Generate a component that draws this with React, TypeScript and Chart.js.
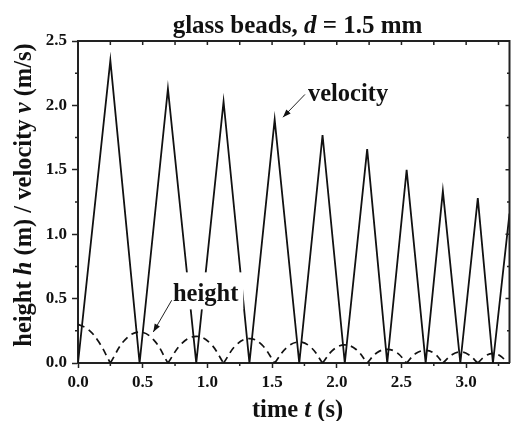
import React, { useEffect, useRef } from "react";
import { Chart, registerables } from "chart.js";

Chart.register(...registerables);

// ---- data ----
const velocityTime = [0, 0.25, 0.476, 0.695, 0.914, 1.125, 1.325, 1.52, 1.71, 1.89, 2.062, 2.235, 2.39, 2.54, 2.687, 2.82, 2.955, 3.09, 3.207, 3.335];
const velocityValue = [0, 2.35, 0, 2.13, 0, 2.03, 0, 1.89, 0, 1.77, 0, 1.66, 0, 1.5, 0, 1.335, 0, 1.28, 0, 1.16];

// height arcs, separated by null (break between bounces)
const heightTime = [
  0, 0.08, 0.16, 0.25, 0.25,
  0.25, 0.363, 0.476, 0.585, 0.695, 0.695,
  0.695, 0.805, 0.914, 1.02, 1.125, 1.125,
  1.125, 1.225, 1.325, 1.42, 1.52, 1.52,
  1.52, 1.615, 1.71, 1.8, 1.89, 1.89,
  1.89, 1.975, 2.062, 2.15, 2.235, 2.235,
  2.235, 2.31, 2.39, 2.465, 2.54, 2.54,
  2.54, 2.61, 2.687, 2.755, 2.82, 2.82,
  2.82, 2.89, 2.955, 3.02, 3.09, 3.09,
  3.09, 3.15, 3.207, 3.265, 3.32,
];
const heightValue = [
  0.3, 0.26, 0.165, 0, null,
  0, 0.18, 0.24, 0.18, 0, null,
  0, 0.155, 0.207, 0.155, 0, null,
  0, 0.142, 0.19, 0.142, 0, null,
  0, 0.122, 0.163, 0.122, 0, null,
  0, 0.105, 0.14, 0.105, 0, null,
  0, 0.08, 0.106, 0.08, 0, null,
  0, 0.074, 0.098, 0.074, 0, null,
  0, 0.064, 0.086, 0.064, 0, null,
  0, 0.055, 0.074, 0.055, 0,
];

const xMin = 0;
const xMax = 3.335;
const xStep = 0.5;
const yMin = 0;
const yMax = 2.5;
const yStep = 0.5;

const titleParts: [string, boolean][] = [["glass beads, ", false], ["d", true], [" = 1.5 mm", false]];
const xTitleParts: [string, boolean][] = [["time ", false], ["t", true], [" (s)", false]];
const yTitleParts: [string, boolean][] = [["height ", false], ["h", true], [" (m) / velocity ", false], ["v", true], [" (m/s)", false]];
const velocityLabel = "velocity";
const heightLabel = "height";

const FONT = '"Liberation Serif", "Times New Roman", serif';
const INK = "#111";

function drawRich(ctx: CanvasRenderingContext2D, parts: [string, boolean][], x: number, y: number, size: number) {
  const widths = parts.map(([t, it]) => {
    ctx.font = `${it ? "italic " : ""}bold ${size}px ${FONT}`;
    return ctx.measureText(t).width;
  });
  const total = widths.reduce((a, b) => a + b, 0);
  let sx = x - total / 2;
  ctx.textAlign = "left";
  parts.forEach(([t, it], i) => {
    ctx.font = `${it ? "italic " : ""}bold ${size}px ${FONT}`;
    ctx.fillText(t, sx, y);
    sx += widths[i];
  });
}

function arrow(ctx: CanvasRenderingContext2D, x1: number, y1: number, x2: number, y2: number) {
  ctx.beginPath();
  ctx.moveTo(x1, y1);
  ctx.lineTo(x2, y2);
  ctx.stroke();
  const ang = Math.atan2(y2 - y1, x2 - x1);
  const L = 8, W = 3;
  ctx.beginPath();
  ctx.moveTo(x2, y2);
  ctx.lineTo(x2 - L * Math.cos(ang) + W * Math.sin(ang), y2 - L * Math.sin(ang) - W * Math.cos(ang));
  ctx.lineTo(x2 - L * Math.cos(ang) - W * Math.sin(ang), y2 - L * Math.sin(ang) + W * Math.cos(ang));
  ctx.closePath();
  ctx.fill();
}

const decorPlugin = {
  id: "decor",
  afterDraw(chart: any) {
    const ctx: CanvasRenderingContext2D = chart.ctx;
    const a = chart.chartArea;
    const xs = chart.scales.x;
    const ys = chart.scales.y;
    ctx.save();
    ctx.strokeStyle = "#222";
    ctx.fillStyle = INK;

    // frame top & right
    ctx.lineWidth = 2;
    ctx.beginPath();
    ctx.moveTo(a.left - 1, a.top);
    ctx.lineTo(a.right, a.top);
    ctx.lineTo(a.right, a.bottom);
    ctx.stroke();

    // ticks: top/right inward, minor outward on bottom/left
    ctx.lineWidth = 1.5;
    const xMaj = xs.ticks.map((t: any) => t.value);
    const yMaj = ys.ticks.map((t: any) => t.value);
    const xMinor: number[] = [];
    for (let i = 0; i < xMaj.length; i++) {
      const m = xMaj[i] + xStep / 2;
      if (m <= xMax) xMinor.push(m);
    }
    const yMinor: number[] = [];
    for (let i = 0; i < yMaj.length - 1; i++) yMinor.push((yMaj[i] + yMaj[i + 1]) / 2);
    ctx.beginPath();
    [...xMaj, ...xMinor].forEach((v) => {
      const px = xs.getPixelForValue(v);
      ctx.moveTo(px, a.top);
      ctx.lineTo(px, a.top + 4);
    });
    xMinor.forEach((v) => {
      const px = xs.getPixelForValue(v);
      ctx.moveTo(px, a.bottom);
      ctx.lineTo(px, a.bottom + 3);
    });
    yMinor.forEach((v) => {
      const py = ys.getPixelForValue(v);
      ctx.moveTo(a.left, py);
      ctx.lineTo(a.left - 3, py);
      ctx.moveTo(a.right, py);
      ctx.lineTo(a.right - 2.5, py);
    });
    yMaj.forEach((v: number) => {
      const py = ys.getPixelForValue(v);
      ctx.moveTo(a.right, py);
      ctx.lineTo(a.right - 4, py);
    });
    ctx.stroke();

    // height label with white box
    ctx.font = `bold 24.5px ${FONT}`;
    ctx.textBaseline = "middle";
    const hx = xs.getPixelForValue(0.734);
    const hy = ys.getPixelForValue(0.533);
    const hw = ctx.measureText(heightLabel).width;
    ctx.fillStyle = "#fff";
    ctx.fillRect(hx - 5, hy - 22, hw + 10, 37);
    ctx.fillStyle = INK;
    ctx.textAlign = "left";
    ctx.fillText(heightLabel, hx, hy);
    ctx.lineWidth = 1;
    arrow(ctx, xs.getPixelForValue(0.724), ys.getPixelForValue(0.487), xs.getPixelForValue(0.582), ys.getPixelForValue(0.241));

    // velocity label
    ctx.fillText(velocityLabel, xs.getPixelForValue(1.777), ys.getPixelForValue(2.08));
    arrow(ctx, xs.getPixelForValue(1.754), ys.getPixelForValue(2.085), xs.getPixelForValue(1.584), ys.getPixelForValue(1.908));

    // title
    ctx.textBaseline = "alphabetic";
    drawRich(ctx, titleParts, 297.5, 33, 25);
    // x title
    drawRich(ctx, xTitleParts, 297.5, 417, 24.5);
    // y title
    ctx.save();
    ctx.translate(25, 195);
    ctx.rotate(-Math.PI / 2);
    ctx.textBaseline = "middle";
    drawRich(ctx, yTitleParts, 0, 0, 24.5);
    ctx.restore();

    ctx.restore();
  },
};

export default function App() {
  const ref = useRef<HTMLCanvasElement>(null);
  useEffect(() => {
    if (!ref.current) return;
    const tickFont = { family: FONT, size: 17, weight: "bold" as const };
    const chart = new Chart(ref.current, {
      type: "line",
      data: {
        datasets: [
          {
            label: "velocity",
            data: velocityTime.map((t, i) => ({ x: t, y: velocityValue[i] })),
            borderColor: INK,
            borderWidth: 1.8,
            pointRadius: 0,
            tension: 0,
          },
          {
            label: "height",
            data: heightTime.map((t, i) => ({ x: t, y: heightValue[i] as any })),
            borderColor: INK,
            borderWidth: 1.7,
            borderDash: [7, 5],
            pointRadius: 0,
            tension: 0.4,
            spanGaps: false,
          },
        ],
      },
      options: {
        responsive: false,
        animation: false,
        layout: { padding: { top: 41, right: 1.5, left: 0, bottom: 0 } },
        plugins: { legend: { display: false }, tooltip: { enabled: false }, title: { display: false } },
        scales: {
          x: {
            type: "linear",
            min: xMin,
            max: xMax,
            ticks: {
              stepSize: xStep,
              includeBounds: false,
              autoSkip: false,
              maxRotation: 0,
              callback: (v: any) => Number(v).toFixed(1),
              font: tickFont,
              color: INK,
              padding: 4,
            },
            grid: { drawOnChartArea: false, drawTicks: true, tickLength: 5, tickColor: "#222", tickWidth: 1.5 },
            border: { color: "#222", width: 2 },
            afterFit: (s: any) => {
              s.height = 58;
            },
          },
          y: {
            type: "linear",
            min: yMin,
            max: yMax,
            ticks: {
              stepSize: yStep,
              includeBounds: false,
              callback: (v: any) => Number(v).toFixed(1),
              font: tickFont,
              color: INK,
              padding: 5,
            },
            grid: { drawOnChartArea: false, drawTicks: true, tickLength: 6, tickColor: "#222", tickWidth: 1.5 },
            border: { color: "#222", width: 2 },
            afterFit: (s: any) => {
              s.width = 78;
            },
          },
        },
      },
      plugins: [decorPlugin],
    });
    return () => chart.destroy();
  }, []);
  return (
    <div style={{ position: "fixed", left: 0, top: 0, width: 511, height: 421, background: "#fff" }}>
      <canvas ref={ref} width={511} height={421} style={{ display: "block", width: 511, height: 421 }} />
    </div>
  );
}
